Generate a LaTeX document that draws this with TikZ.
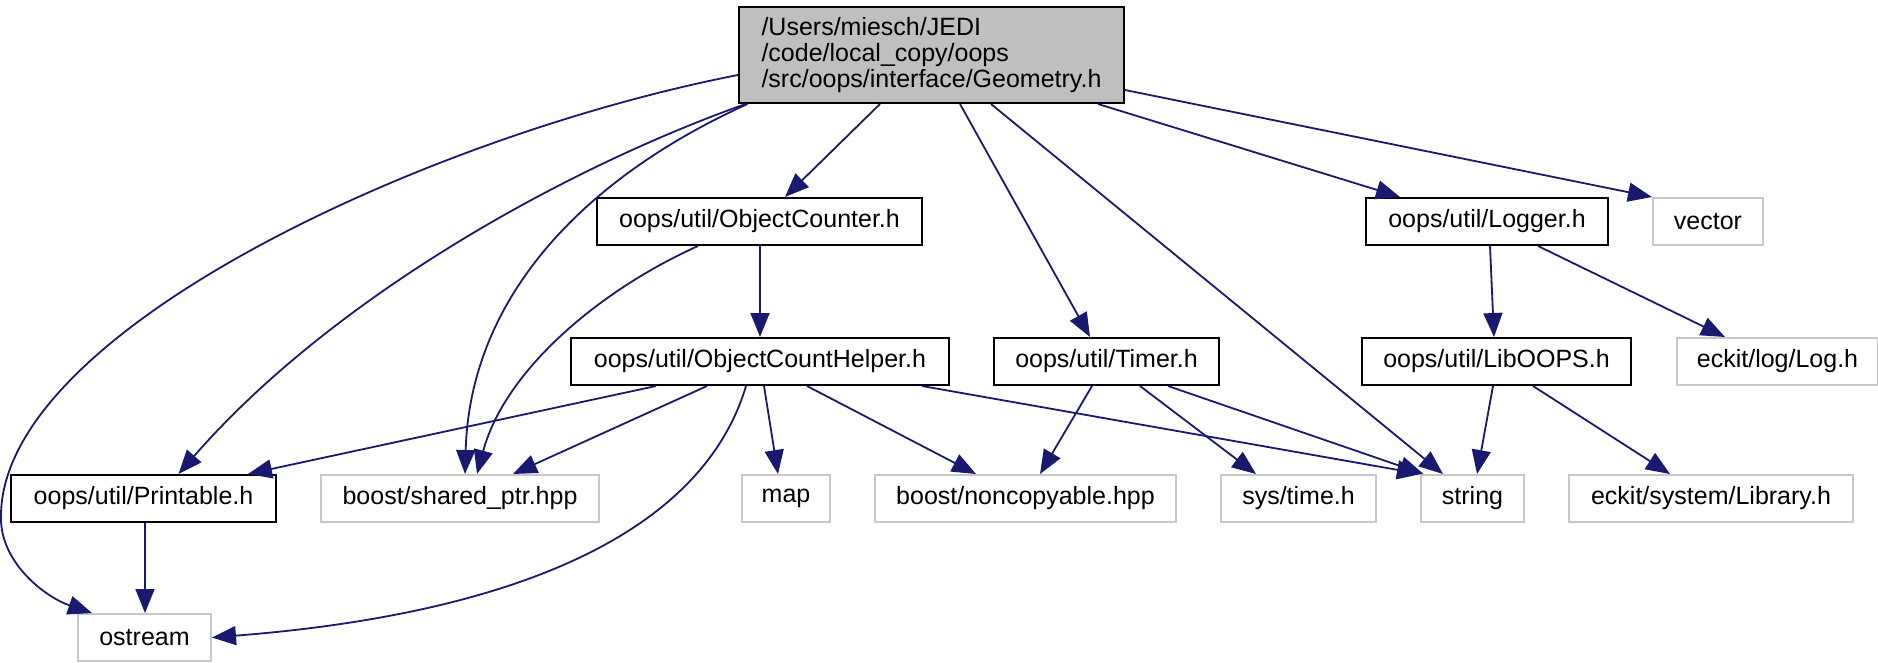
\documentclass[tikz,border=0pt]{standalone}
\usepackage{fontspec}
\setmainfont{Liberation Sans}
\usetikzlibrary{arrows.meta}
\definecolor{edgeblue}{HTML}{191970}
\definecolor{boxgrey}{HTML}{BFBFBF}
\definecolor{extgrey}{HTML}{C8C8C8}
\begin{document}
\begin{tikzpicture}[x=1pt,y=-1pt,
  every node/.style={font=\fontsize{25}{26}\selectfont, inner sep=0pt, anchor=center},
  inbox/.style={draw=black, line width=2pt, fill=white, minimum height=47pt},
  extbox/.style={draw=extgrey, line width=2pt, fill=white, minimum height=47pt},
  dep/.style={draw=edgeblue, line width=1.8pt, -{Triangle[length=24pt,width=19pt]}}
]
\useasboundingbox (0,0) rectangle (1878,662);
% nodes
\node[draw=black, line width=2pt, fill=boxgrey, minimum width=385pt, minimum height=96pt, align=left] (geo) at (931.5,55)
  {/Users/miesch/JEDI\\/code/local\_copy/oops\\/src/oops/interface/Geometry.h};
\node[inbox, minimum width=325pt] (oc) at (759.5,221.5) {oops/util/ObjectCounter.h};
\node[inbox, minimum width=242pt] (logger) at (1487,221.5) {oops/util/Logger.h};
\node[extbox, minimum width=110pt] (vector) at (1708,221.5) {vector};
\node[inbox, minimum width=378pt] (och) at (760,361.5) {oops/util/ObjectCountHelper.h};
\node[inbox, minimum width=225pt] (timer) at (1106.5,361.5) {oops/util/Timer.h};
\node[inbox, minimum width=269pt] (liboops) at (1496.5,361.5) {oops/util/LibOOPS.h};
\node[extbox, minimum width=201pt] (log) at (1777.5,361.5) {eckit/log/Log.h};
\node[inbox, minimum width=265pt] (printable) at (143.5,498.5) {oops/util/Printable.h};
\node[extbox, minimum width=278pt] (shared) at (460,498.5) {boost/shared\_ptr.hpp};
\node[extbox, minimum width=88pt] (map) at (786,498.5) {map};
\node[extbox, minimum width=301pt] (noncopy) at (1025.5,498.5) {boost/noncopyable.hpp};
\node[extbox, minimum width=155pt] (systime) at (1298.5,498.5) {sys/time.h};
\node[extbox, minimum width=103pt] (string) at (1472.5,498.5) {string};
\node[extbox, minimum width=284pt] (library) at (1711,498.5) {eckit/system/Library.h};
\node[extbox, minimum width=133pt] (ostream) at (144.5,637.5) {ostream};
% edges from Geometry.h
\draw[dep] ([yshift=-20pt]geo.west) .. controls (430,135) and (3,330) .. (1,515)
  .. controls (-1,562) and (45,597) .. ([xshift=-52.5pt]ostream.north);
\draw[dep] ([xshift=-186pt]geo.south) .. controls (560,170) and (330,300) .. ([xshift=35pt]printable.north);
\draw[dep] ([xshift=-184pt]geo.south) .. controls (580,180) and (470,300) .. ([xshift=5pt]shared.north);
\draw[dep] ([xshift=-51.5pt]geo.south) -- ([xshift=25.5pt]oc.north);
\draw[dep] ([xshift=28.5pt]geo.south) -- ([xshift=-16.5pt]timer.north);
\draw[dep] ([xshift=59.5pt]geo.south) -- ([xshift=-29.5pt]string.north);
\draw[dep] ([xshift=166.5pt]geo.south) -- ([xshift=-87pt]logger.north);
\draw[dep] ([yshift=-35pt]geo.east) -- ([xshift=-56pt]vector.north);
% ObjectCounter
\draw[dep] ([xshift=0.5pt]oc.south) -- (och.north);
\draw[dep] ([xshift=-61.5pt]oc.south) .. controls (600,290) and (505,370) .. ([xshift=17pt]shared.north);
% ObjectCountHelper
\draw[dep] ([xshift=-104pt]och.south) -- ([xshift=104.5pt]printable.north);
\draw[dep] ([xshift=-53pt]och.south) -- ([xshift=53pt]shared.north);
\draw[dep] ([xshift=-14pt]och.south) .. controls (700,540) and (500,615) .. (ostream.east);
\draw[dep] ([xshift=4pt]och.south) -- ([xshift=-8pt]map.north);
\draw[dep] ([xshift=47pt]och.south) -- ([xshift=-49.5pt]noncopy.north);
\draw[dep] ([xshift=162pt]och.south) -- ([xshift=-51.5pt]string.north);
% Timer
\draw[dep] ([xshift=-14.5pt]timer.south) -- ([xshift=14.5pt]noncopy.north);
\draw[dep] ([xshift=33.5pt]timer.south) -- ([xshift=-42.5pt]systime.north);
\draw[dep] ([xshift=61.5pt]timer.south) -- ([xshift=-49pt]string.north);
% Logger
\draw[dep] ([xshift=3pt]logger.south) -- ([xshift=-2.5pt]liboops.north);
\draw[dep] ([xshift=51pt]logger.south) -- ([xshift=-52.5pt]log.north);
% LibOOPS
\draw[dep] ([xshift=-3.5pt]liboops.south) -- ([xshift=4.5pt]string.north);
\draw[dep] ([xshift=36.5pt]liboops.south) -- ([xshift=-41pt]library.north);
% Printable
\draw[dep] ([xshift=1.5pt]printable.south) -- ([xshift=0.5pt]ostream.north);
\end{tikzpicture}
\end{document}
